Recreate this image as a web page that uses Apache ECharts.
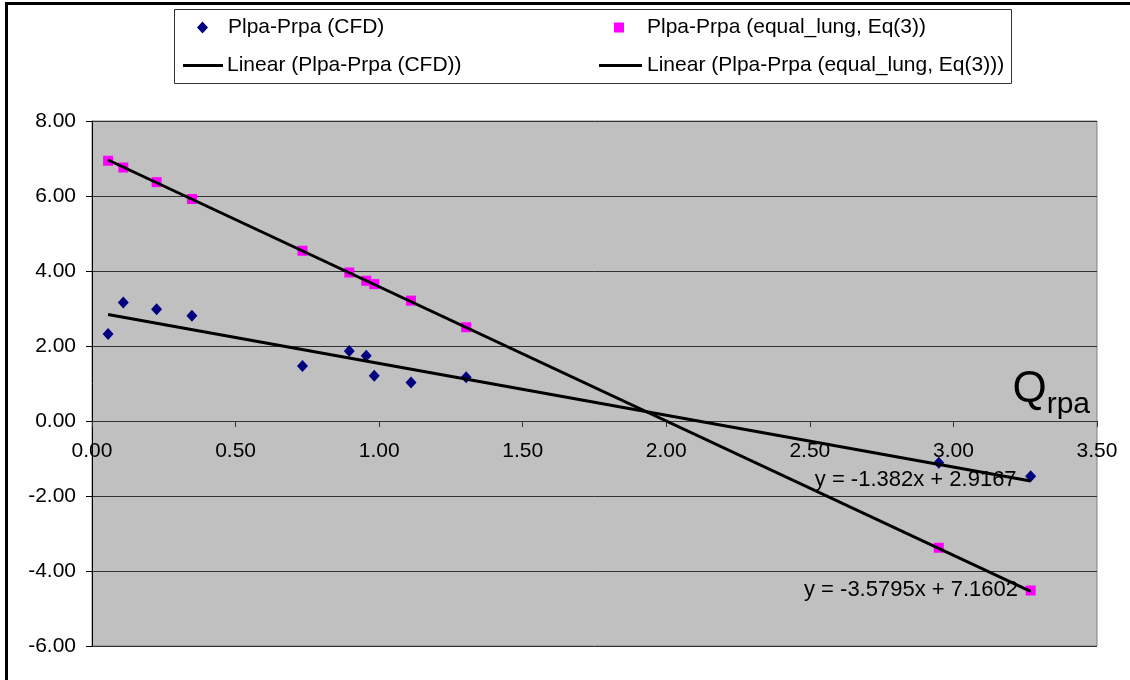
<!DOCTYPE html>
<html>
<head>
<meta charset="utf-8">
<script src="https://cdn.jsdelivr.net/npm/echarts@6/dist/echarts.min.js"></script>
<style>
  html, body { margin: 0; padding: 0; background: #ffffff; }
  #chart { width: 1130px; height: 680px; }
</style>
</head>
<body>
<div id="chart"></div>
<script>
// Q_rpa values (x)
const qValues = [0.056, 0.109, 0.225, 0.348, 0.733, 0.896, 0.955, 0.983, 1.111, 1.303, 2.949, 3.269];
// Plpa-Prpa (CFD)
const cfdValues = [2.32, 3.16, 2.98, 2.81, 1.47, 1.87, 1.74, 1.21, 1.03, 1.17, -1.11, -1.47];
// Plpa-Prpa (equal_lung, Eq(3))
const eqLungValues = [6.94, 6.76, 6.37, 5.92, 4.54, 3.96, 3.74, 3.65, 3.21, 2.50, -3.38, -4.52];
// Linear trendline coefficients shown on chart
const trendSlopes = [-1.382, -3.5795];
const trendIntercepts = [2.9167, 7.1602];
const trendLabels = ['y = -1.382x + 2.9167', 'y = -3.5795x + 7.1602'];
// annotation anchor positions (data coords, right end of each equation label)
const trendLabelX = [3.22, 3.225];
const trendLabelY = [-1.58, -4.51];
const seriesNames = ['Plpa-Prpa (CFD)', 'Plpa-Prpa (equal_lung, Eq(3))', 'Linear (Plpa-Prpa (CFD))', 'Linear (Plpa-Prpa (equal_lung, Eq(3)))'];

const FONT = '"Liberation Sans", Arial, sans-serif';

const zip = (xs, ys) => xs.map((x, i) => [x, ys[i]]);
const xMin = Math.min(...qValues), xMax = Math.max(...qValues);
const trendLine = (k) => [[xMin, trendSlopes[k] * xMin + trendIntercepts[k]], [xMax, trendSlopes[k] * xMax + trendIntercepts[k]]];

const chart = echarts.init(document.getElementById('chart'), null, { renderer: 'canvas' });

const legendBase = {
  orient: 'horizontal', padding: 0, selectedMode: false,
  textStyle: { fontFamily: FONT, fontSize: 21, color: '#000' }
};

// y-axis range
const yMin = -6, yMax = 8;
const gridTop = 121, gridBottom = 34, chartH = 680;
const plotH = chartH - gridTop - gridBottom;
// x axis sits at y = 0: offset from bottom of plot
const xAxisOffset = -plotH * (0 - yMin) / (yMax - yMin);

const option = {
  animation: false,
  backgroundColor: '#ffffff',
  grid: {
    left: 92, right: 33, top: gridTop, bottom: gridBottom,
    show: true, backgroundColor: '#C0C0C0', borderColor: '#808080', borderWidth: 1,
    containLabel: false, outerBoundsMode: 'none'
  },
  legend: [
    Object.assign({}, legendBase, { data: [seriesNames[0]], left: 197, top: 17, icon: 'diamond', itemWidth: 11, itemHeight: 12,
      textStyle: Object.assign({}, legendBase.textStyle, { padding: [0, 0, 0, 15] }) }),
    Object.assign({}, legendBase, { data: [seriesNames[1]], left: 614, top: 17, icon: 'rect', itemWidth: 10, itemHeight: 10,
      textStyle: Object.assign({}, legendBase.textStyle, { padding: [0, 0, 0, 18] }) }),
    Object.assign({}, legendBase, { data: [seriesNames[2]], left: 183, top: 55, icon: 'rect', itemWidth: 40, itemHeight: 3,
      textStyle: Object.assign({}, legendBase.textStyle, { padding: [0, 0, 0, -1] }) }),
    Object.assign({}, legendBase, { data: [seriesNames[3]], left: 599, top: 55, icon: 'rect', itemWidth: 43, itemHeight: 3,
      textStyle: Object.assign({}, legendBase.textStyle, { padding: [0, 0, 0, 0] }) })
  ],
  xAxis: {
    type: 'value', min: 0, max: 3.5, interval: 0.5,
    position: 'bottom', offset: xAxisOffset,
    axisLine: { show: true, onZero: false, lineStyle: { color: '#333', width: 1 } },
    axisTick: { show: true, inside: false, length: 6, lineStyle: { color: '#333' } },
    axisLabel: { margin: 20, fontFamily: FONT, fontSize: 21, color: '#000', formatter: v => v.toFixed(2) },
    splitLine: { show: false }
  },
  yAxis: {
    type: 'value', min: yMin, max: yMax, interval: 2,
    axisLine: { show: true, onZero: false, lineStyle: { color: '#000', width: 1 } },
    axisTick: { show: true, inside: false, length: 6, lineStyle: { color: '#000' } },
    axisLabel: { margin: 16, fontFamily: FONT, fontSize: 21, color: '#000', formatter: v => v.toFixed(2) },
    splitLine: { show: true, lineStyle: { color: '#333', width: 1 } }
  },
  series: [
    { name: seriesNames[0], type: 'scatter', data: zip(qValues, cfdValues), symbol: 'diamond', symbolSize: [11, 12],
      itemStyle: { color: '#000080', opacity: 1 }, z: 2 },
    { name: seriesNames[1], type: 'scatter', data: zip(qValues, eqLungValues), symbol: 'rect', symbolSize: 10,
      itemStyle: { color: '#FF00FF', opacity: 1 }, z: 2 },
    { name: seriesNames[2], type: 'line', data: trendLine(0), showSymbol: false, symbol: 'none', color: '#000',
      lineStyle: { color: '#000', width: 3 }, z: 3 },
    { name: seriesNames[3], type: 'line', data: trendLine(1), showSymbol: false, symbol: 'none', color: '#000',
      lineStyle: { color: '#000', width: 3 }, z: 3 }
  ]
};

chart.setOption(option);

const eqGraphics = trendLabels.map((t, i) => {
  const p = chart.convertToPixel({ gridIndex: 0 }, [trendLabelX[i], trendLabelY[i]]);
  return {
    type: 'text', x: p[0], y: p[1], z: 10,
    style: { text: t, fill: '#000', font: '22px ' + FONT, textAlign: 'right', textVerticalAlign: 'middle' }
  };
});

chart.setOption({
  graphic: [
    { type: 'rect', shape: { x: 6.5, y: 3.5, width: 1140, height: 700 }, style: { fill: null, stroke: '#000', lineWidth: 3 }, z: -1, silent: true },
    { type: 'rect', shape: { x: 174.5, y: 9.5, width: 837, height: 74 }, style: { fill: null, stroke: '#333', lineWidth: 1 }, z: 0, silent: true },
    {
      type: 'text', x: 1090, y: 420, z: 10,
      style: {
        text: '{q|Q}{s|rpa}', textAlign: 'right', textVerticalAlign: 'bottom',
        rich: {
          q: { fontFamily: FONT, fontSize: 44, fill: '#000', verticalAlign: 'bottom', padding: [0, 0, 8, 0] },
          s: { fontFamily: FONT, fontSize: 30, fill: '#000', verticalAlign: 'bottom' }
        }
      }
    }
  ].concat(eqGraphics)
});
</script>
</body>
</html>
